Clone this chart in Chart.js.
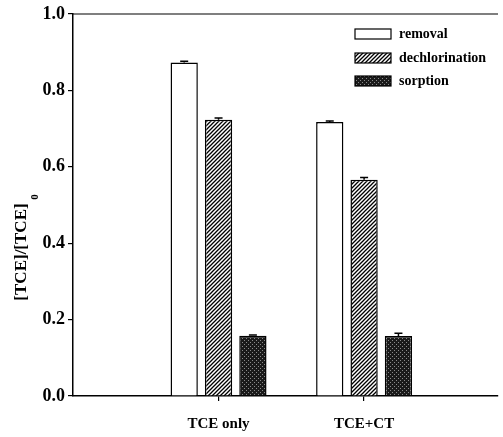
<!DOCTYPE html>
<html>
<head>
<meta charset="utf-8">
<script src="https://cdn.jsdelivr.net/npm/chart.js@4"></script>
<style>
  body { margin: 0; background: #fff; }
  #wrap { width: 503px; height: 437px; }
</style>
</head>
<body>
<div id="wrap"><canvas id="barChart"></canvas></div>
<script>
// dados
const categorias = ['TCE only', 'TCE+CT'];
const posicoes = [1, 2];
const removal = [0.873, 0.717];
const dechlorination = [0.723, 0.566];
const sorption = [0.158, 0.157];
const erroRemoval = [0.003, 0.003];
const erroDechlorination = [0.005, 0.006];
const erroSorption = [0.002, 0.007];
const yTicks = [0, 0.2, 0.4, 0.6, 0.8, 1.0];

const serif = '"Liberation Serif", "Times New Roman", serif';

// padrão hachurado (dechlorination)
function hatchPattern() {
    const c = document.createElement('canvas');
    c.width = 4; c.height = 4;
    const g = c.getContext('2d');
    g.fillStyle = '#fff';
    g.fillRect(0, 0, 4, 4);
    g.strokeStyle = '#000';
    g.lineWidth = 1.3;
    g.beginPath();
    g.moveTo(-1, 5); g.lineTo(5, -1);
    g.moveTo(-1, 1); g.lineTo(1, -1);
    g.moveTo(3, 5); g.lineTo(5, 3);
    g.stroke();
    return g.createPattern(c, 'repeat');
}

// padrão pontilhado escuro (sorption)
function dotPattern() {
    const c = document.createElement('canvas');
    c.width = 4; c.height = 4;
    const g = c.getContext('2d');
    g.fillStyle = '#1a1a1a';
    g.fillRect(0, 0, 4, 4);
    g.fillStyle = '#8a8a8a';
    g.fillRect(0, 0, 1, 1);
    g.fillRect(2, 2, 1, 1);
    return g.createPattern(c, 'repeat');
}

const pontos = arr => arr.map((v, i) => ({ x: posicoes[i], y: v }));
const erros = [erroRemoval, erroDechlorination, erroSorption];

// barras de erro, moldura, legenda e título do eixo Y
const extras = {
    id: 'extras',
    afterDatasetsDraw(chart) {
        const ctx = chart.ctx;
        const y = chart.scales.y;
        ctx.save();
        ctx.strokeStyle = '#000';
        ctx.lineWidth = 1.5;
        chart.data.datasets.forEach((ds, i) => {
            const meta = chart.getDatasetMeta(i);
            meta.data.forEach((bar, j) => {
                const v = ds.data[j].y;
                const top = y.getPixelForValue(v + erros[i][j]);
                const base = y.getPixelForValue(v);
                ctx.beginPath();
                ctx.moveTo(bar.x, base);
                ctx.lineTo(bar.x, top);
                ctx.moveTo(bar.x - 4, top);
                ctx.lineTo(bar.x + 4, top);
                ctx.stroke();
            });
        });
        // linha superior do quadro
        const a = chart.chartArea;
        ctx.lineWidth = 1.2;
        ctx.beginPath();
        ctx.moveTo(a.left, a.top);
        ctx.lineTo(a.right, a.top);
        ctx.stroke();

        // legenda
        const lx = 355, rows = [34, 58, 81];
        ctx.font = 'bold 14px ' + serif;
        ctx.textBaseline = 'middle';
        chart.data.datasets.forEach((ds, i) => {
            ctx.fillStyle = ds.backgroundColor;
            ctx.fillRect(lx, rows[i] - 5, 36, 10);
            ctx.lineWidth = 1.2;
            ctx.strokeRect(lx, rows[i] - 5, 36, 10);
            ctx.fillStyle = '#000';
            ctx.fillText(ds.label, 399, rows[i]);
        });

        // título do eixo Y
        ctx.translate(22, 252);
        ctx.rotate(-Math.PI / 2);
        ctx.textAlign = 'center';
        ctx.font = 'bold 17px ' + serif;
        ctx.fillText('[TCE]/[TCE]', 0, 0);
        ctx.font = 'bold 11px ' + serif;
        ctx.fillText('0', 55, 13);
        ctx.restore();
    }
};

const ctx = document.getElementById('barChart').getContext('2d');

new Chart(ctx, {
    type: 'bar',
    data: {
        datasets: [
            { label: 'removal', data: pontos(removal), backgroundColor: '#fff', borderColor: '#000', borderWidth: 1.5 },
            { label: 'dechlorination', data: pontos(dechlorination), backgroundColor: hatchPattern(), borderColor: '#000', borderWidth: 1.5 },
            { label: 'sorption', data: pontos(sorption), backgroundColor: dotPattern(), borderColor: '#000', borderWidth: 1.5 }
        ]
    },
    options: {
        responsive: true,
        maintainAspectRatio: false,
        animation: false,
        categoryPercentage: 0.708,
        barPercentage: 0.794,
        layout: { padding: { left: 0, right: 5, top: 14, bottom: 0 } },
        plugins: {
            legend: { display: false },
            tooltip: { enabled: false }
        },
        scales: {
            x: {
                type: 'linear',
                min: 0,
                max: 2.92,
                offset: false,
                afterFit: s => { s.height = 41; },
                afterBuildTicks: s => { s.ticks = posicoes.map(v => ({ value: v })); },
                border: { color: '#000', width: 1.5 },
                grid: {
                    offset: false,
                    drawOnChartArea: false,
                    tickLength: 5,
                    color: '#000',
                    lineWidth: 1.2
                },
                ticks: {
                    color: '#000',
                    font: { family: serif, size: 15, weight: 'bold' },
                    padding: 14,
                    maxRotation: 0,
                    autoSkip: false,
                    callback: v => categorias[posicoes.indexOf(v)] || ''
                }
            },
            y: {
                min: 0,
                max: 1.0,
                afterFit: s => { s.width = 73; },
                afterBuildTicks: s => { s.ticks = yTicks.map(v => ({ value: v })); },
                border: { color: '#000', width: 1.5 },
                grid: {
                    drawOnChartArea: false,
                    tickLength: 5,
                    color: '#000',
                    lineWidth: 1.2
                },
                ticks: {
                    color: '#000',
                    font: { family: serif, size: 18, weight: 'bold' },
                    padding: 3,
                    callback: v => v.toFixed(1)
                }
            }
        }
    },
    plugins: [extras]
});
</script>
</body>
</html>
